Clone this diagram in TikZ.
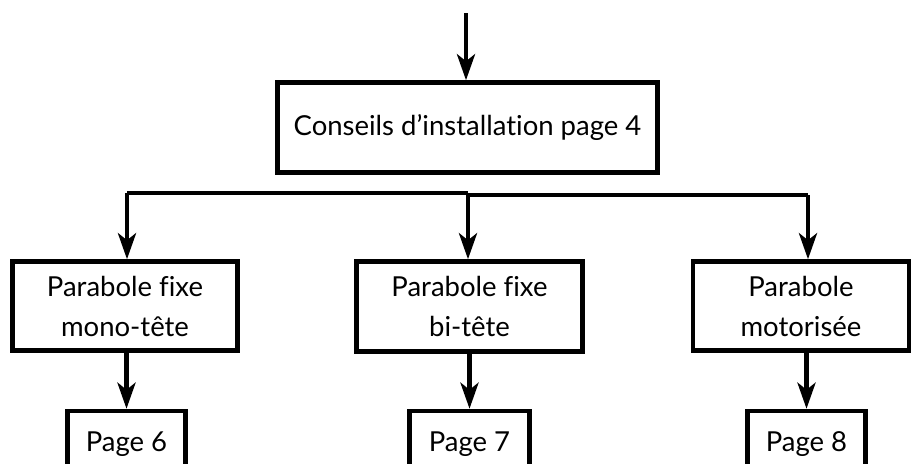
\documentclass[tikz,border=0pt]{standalone}
\usepackage{fontspec}
\setmainfont{Lato}[Ligatures={NoCommon,NoRare}]
\usetikzlibrary{arrows.meta}
\begin{document}
\begin{tikzpicture}[x=1pt,y=-1pt,
  box/.style={draw=black,line width=4.5pt,fill=white,inner sep=0pt,align=center,
    font=\fontsize{27.5}{40}\selectfont},
  conn/.style={line width=4.5pt,-{Stealth[length=26pt,width=18pt,inset=7pt]}},
  plain/.style={line width=4.5pt}]
\useasboundingbox (0,0) rectangle (912,463);
\clip (0,0) rectangle (912,463);
\node[box,minimum width=380pt,minimum height=90pt] (top) at (467.5,127.5) {Conseils d’installation page 4};
\node[box,minimum width=225pt,minimum height=89pt] (left) at (125,306) {Parabole fixe\\mono-tête};
\node[box,minimum width=226pt,minimum height=90pt] (mid) at (469.5,306.5) {Parabole fixe\\bi-tête};
\node[box,minimum width=216pt,minimum height=89pt] (right) at (801,306) {Parabole\\motorisée};
\node[box,minimum width=118pt,minimum height=66pt] (p6) at (126.5,444) {Page 6};
\node[box,minimum width=120pt,minimum height=66pt] (p7) at (469.5,444) {Page 7};
\node[box,minimum width=118pt,minimum height=66pt] (p8) at (806.5,444) {Page 8};
\coordinate (start) at (466,13);
\coordinate (jl) at (468,193);
\coordinate (jr) at (468,195);
\coordinate (cl) at (127,193);
\coordinate (cr) at (808,195);
\draw[conn] (start) -- (start |- top.north);
\draw[plain] (jl) -- (cl);
\draw[plain] (jr) -- (cr);
\draw[conn] (cl) -- (cl |- left.north);
\draw[conn] (jl) -- (jl |- mid.north);
\draw[conn] (cr) -- (cr |- right.north);
\draw[conn] (p6.north |- left.south) -- (p6.north);
\draw[conn] (p7.north |- mid.south) -- (p7.north);
\draw[conn] (p8.north |- right.south) -- (p8.north);
\end{tikzpicture}
\end{document}
